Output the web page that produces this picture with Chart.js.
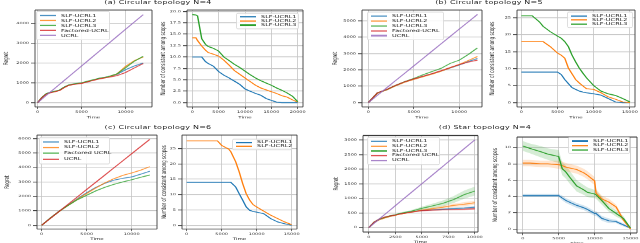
<!DOCTYPE html>
<html>
<head>
<meta charset="utf-8">
<title>SLF-UCRL results</title>
<script src="https://cdn.jsdelivr.net/npm/chart.js@4.4.1/dist/chart.umd.min.js"></script>
<style>
  html, body { margin: 0; padding: 0; background: #fff; overflow: hidden; }
  #fig { position: absolute; left: 0; top: 0; width: 640px; transform-origin: 0 0; font-family: "DejaVu Sans", sans-serif; color: #222; }
  #fig canvas { position: absolute; }
  .title { position: absolute; font-size: 8px; white-space: nowrap; transform: translateX(-50%); letter-spacing: 0.2px; }
  .legend { position: absolute; box-sizing: border-box; background: rgba(255,255,255,0.85); border: 1px solid #d6d6d6; border-radius: 2px; padding: 2px 3px; font-size: 6.5px; }
  .legend .row { display: flex; align-items: center; white-space: nowrap; }
  .legend .ln { display: inline-block; width: 16px; height: 2.2px; margin-right: 5px; flex: none; }
</style>
</head>
<body>
<div id="fig"></div>
<script>
// Panel (a): circular topology, N=4
const aTime = [0, 500, 1000, 1500, 2000, 2500, 3000, 3500, 4000, 5000, 6000, 7000, 8000, 9000, 10000, 11000, 12000];
const aRegretSlf1 = [0, 270, 450, 520, 570, 630, 770, 880, 930, 990, 1100, 1220, 1300, 1420, 1660, 1850, 2000];
const aRegretSlf2 = [0, 260, 440, 510, 560, 620, 760, 870, 920, 980, 1100, 1210, 1290, 1440, 1830, 2120, 2300];
const aRegretSlf3 = [0, 270, 460, 530, 580, 640, 780, 890, 940, 1000, 1120, 1230, 1310, 1450, 1760, 2090, 2340];
const aRegretFactored = [0, 250, 430, 500, 550, 610, 750, 860, 910, 970, 1080, 1190, 1270, 1360, 1520, 1750, 1970];
const aRegretUcrl = [0, 185, 370, 555, 740, 925, 1110, 1295, 1480, 1850, 2220, 2590, 2960, 3330, 3700, 4070, 4440];

const aStep = [0, 700, 1000, 1800, 2500, 3000, 4000, 5000, 6000, 7000, 8000, 9000, 10000, 11000, 12000, 13000, 14000, 15000, 16000, 17000, 18000, 19000, 20000];
const aScopesSlf1 = [10, 10, 10, 10, 9.0, 8.6, 8.0, 6.8, 6.0, 5.4, 4.7, 4.0, 3.0, 2.5, 2.0, 1.6, 0.9, 0.5, 0.1, 0, 0, 0, 0];
const aScopesSlf2 = [14.2, 14.2, 13.6, 12.4, 11.5, 11.0, 10.6, 10.2, 9.3, 8.2, 7.0, 6.2, 5.4, 4.6, 3.8, 3.2, 2.8, 2.4, 2.0, 1.5, 1.2, 0.6, 0.1];
const aScopesSlf3 = [19.3, 19.2, 19.0, 14.0, 12.8, 12.3, 11.9, 11.3, 10.0, 9.2, 8.4, 7.7, 6.9, 6.1, 5.4, 4.8, 4.3, 3.8, 3.2, 2.7, 2.1, 1.4, 0.2];

// Panel (b): circular topology, N=5
const bTime = [0, 1000, 2000, 3000, 4000, 5000, 6000, 7000, 8000, 9000, 10000, 11000, 12000];
const bRegretSlf1 = [0, 590, 780, 1040, 1260, 1440, 1600, 1760, 1930, 2120, 2300, 2520, 2700];
const bRegretSlf2 = [0, 570, 770, 1030, 1250, 1420, 1580, 1740, 1920, 2130, 2340, 2580, 2820];
const bRegretSlf3 = [0, 600, 790, 1060, 1290, 1480, 1700, 1900, 2100, 2400, 2600, 2950, 3350];
const bRegretFactored = [0, 610, 800, 1060, 1280, 1460, 1620, 1780, 1960, 2150, 2330, 2480, 2600];
const bRegretUcrl = [0, 450, 900, 1350, 1800, 2250, 2700, 3150, 3600, 4050, 4500, 4950, 5400];

const bStep = [0, 1500, 2500, 3000, 4000, 5000, 5500, 6000, 6500, 7000, 7500, 8000, 8500, 9000, 10000, 11000, 12000, 13000, 14000, 15000];
const bScopesSlf1 = [9, 9, 9, 9, 9, 9, 8.3, 6.8, 5.6, 4.4, 3.9, 3.4, 3.1, 2.9, 2.6, 2.2, 1.2, 0.2, 0, 0];
const bScopesSlf2 = [18, 18, 18, 18, 16.5, 14.6, 14.0, 13.1, 10.2, 8.5, 6.8, 5.8, 4.9, 4.1, 3.9, 2.9, 1.7, 1.0, 0.2, 0];
const bScopesSlf3 = [25.6, 25.6, 23.8, 22.5, 20.9, 19.6, 19.0, 18.0, 16.5, 14.0, 12.0, 10.2, 8.7, 7.3, 5.0, 3.4, 2.6, 2.1, 1.2, 0.2];

// Panel (c): circular topology, N=6
const cTime = [0, 1000, 2000, 3000, 4000, 5000, 6000, 7000, 8000, 9000, 10000, 11000, 12000];
const cRegretSlf1 = [0, 520, 1000, 1430, 1850, 2260, 2620, 2900, 3120, 3250, 3350, 3540, 3740];
const cRegretSlf2 = [0, 510, 990, 1410, 1820, 2200, 2580, 2930, 3220, 3450, 3620, 3820, 4060];
const cRegretFactored = [0, 520, 990, 1400, 1780, 2080, 2380, 2630, 2830, 3000, 3150, 3320, 3480];
const cRegretUcrl = [0, 495, 990, 1490, 1985, 2480, 2975, 3470, 3970, 4465, 4960, 5455, 5950];

const cStep = [0, 4400, 5000, 6000, 6300, 7000, 7500, 8000, 8500, 9000, 9500, 10000, 11000, 12000, 13000, 14000, 15000];
const cScopesSlf1 = [14, 14, 14, 14, 14, 12.5, 10.3, 8.2, 6.0, 4.9, 4.5, 4.3, 3.8, 2.2, 1.1, 0.5, 0];
const cScopesSlf2 = [27.5, 27.5, 26.0, 24.8, 24.0, 20.7, 17.4, 13.6, 10.3, 8.2, 6.7, 6.0, 4.6, 3.3, 2.2, 1.1, 0.2];

// Panel (d): star topology, N=4 (mean and spread)
const dTime = [0, 500, 1000, 1500, 2000, 2500, 3000, 4000, 5000, 6000, 7000, 8000, 9000, 10000];
const dRegretSlf1 = [0, 180, 280, 340, 390, 430, 480, 540, 590, 610, 630, 650, 670, 700];
const dRegretSlf2 = [0, 170, 270, 330, 380, 420, 470, 530, 600, 650, 700, 760, 800, 850];
const dRegretSlf3 = [0, 190, 290, 350, 400, 440, 490, 560, 660, 740, 830, 960, 1130, 1250];
const dRegretFactored = [0, 190, 300, 360, 400, 430, 470, 530, 580, 600, 610, 620, 630, 645];
const dRegretUcrl = [0, 150, 300, 450, 600, 750, 900, 1200, 1500, 1800, 2100, 2400, 2700, 3000];
const dRegretSlf1Sd = [0, 10, 15, 15, 15, 15, 15, 20, 25, 30, 35, 40, 40, 40];
const dRegretSlf2Sd = [0, 10, 15, 15, 15, 15, 20, 25, 30, 40, 50, 60, 70, 70];
const dRegretSlf3Sd = [0, 20, 30, 30, 30, 30, 30, 40, 60, 80, 100, 120, 140, 150];
const dRegretFactoredSd = [0, 10, 15, 15, 15, 15, 15, 20, 25, 30, 30, 35, 40, 45];

const dStep = [0, 1000, 2500, 3500, 5000, 5500, 6000, 6500, 7500, 8500, 9000, 10000, 10200, 11000, 12000, 13000, 13500, 14000, 15000];
const dScopesSlf1 = [4.1, 4.1, 4.1, 4.1, 4.1, 3.8, 3.5, 3.3, 2.9, 2.6, 2.4, 1.9, 1.9, 1.3, 1.0, 0.9, 0.7, 0.5, 0.1];
const dScopesSlf2 = [8.1, 8.1, 8.0, 8.0, 7.9, 7.8, 7.6, 7.5, 7.3, 6.9, 6.6, 5.9, 4.4, 3.7, 3.3, 2.7, 1.9, 1.1, 0];
const dScopesSlf3 = [10.2, 9.9, 9.5, 9.2, 8.9, 7.4, 7.0, 6.4, 5.3, 4.8, 4.5, 4.3, 4.2, 3.5, 2.5, 1.9, 1.6, 1.3, 0.1];
const dScopesSlf1Sd = [0.2, 0.2, 0.2, 0.2, 0.2, 0.3, 0.3, 0.3, 0.3, 0.3, 0.3, 0.3, 0.3, 0.3, 0.3, 0.2, 0.2, 0.2, 0.1];
const dScopesSlf2Sd = [0.4, 0.4, 0.4, 0.4, 0.5, 0.5, 0.5, 0.5, 0.5, 0.5, 0.5, 0.5, 0.5, 0.4, 0.4, 0.3, 0.3, 0.2, 0.1];
const dScopesSlf3Sd = [0.6, 0.6, 0.7, 0.7, 0.8, 0.8, 0.8, 0.8, 0.7, 0.6, 0.6, 0.5, 0.5, 0.5, 0.4, 0.4, 0.3, 0.3, 0.1];

// Tick values
const regretXTicks = [0, 5000, 10000];
const starRegretXTicks = [0, 2500, 5000, 7500, 10000];
const scopesXTicks = [0, 5000, 10000, 15000];
const scopesXTicksLong = [0, 5000, 10000, 15000, 20000];
const aRegretYTicks = [0, 1000, 2000, 3000, 4000];
const bRegretYTicks = [0, 1000, 2000, 3000, 4000, 5000];
const cRegretYTicks = [0, 1000, 2000, 3000, 4000, 5000, 6000];
const dRegretYTicks = [0, 500, 1000, 1500, 2000, 2500, 3000];
const aScopesYTicks = [0, 2.5, 5, 7.5, 10, 12.5, 15, 17.5, 20];
const bScopesYTicks = [0, 5, 10, 15, 20, 25];
const dScopesYTicks = [0, 2, 4, 6, 8, 10];

// Text
const titles = ['(a) Circular topology N=4', '(b) Circular topology N=5', '(c) Circular topology N=6', '(d) Star topology N=4'];
const regretLabelsA = ['SLF-UCRL1', 'SLF-UCRL2', 'SLF-UCRL3', 'Factored-UCRL', 'UCRL'];
const regretLabelsC = ['SLF-UCRL1', 'SLF-UCRL2', 'Factored UCRL', 'UCRL'];
const regretLabelsD = ['SLF-UCRL1', 'SLF-UCRL2', 'SLF-UCRL3', 'Factored UCRL', 'UCRL'];
const scopeLabels = ['SLF-UCRL1', 'SLF-UCRL2', 'SLF-UCRL3'];
const scopesTitle = 'Number of consistent among scopes';

// The printed figure is squashed vertically, so everything is drawn taller and scaled down
const K = 0.62;
const XH = 20;
const FONT = '"DejaVu Sans", sans-serif';
const GRID = '#c4c4c4';
const BLUE = '#1f77b4', ORANGE = '#ff7f0e', GREEN = '#2ca02c', RED = '#d62728', PURPLE = '#9467bd';

const fig = document.getElementById('fig');
fig.style.height = (243 / K) + 'px';
fig.style.transform = 'scaleY(' + K + ')';

Chart.defaults.font.family = FONT;

function rgba(hex, a) {
    const n = parseInt(hex.slice(1), 16);
    return 'rgba(' + (n >> 16) + ',' + ((n >> 8) & 255) + ',' + (n & 255) + ',' + a + ')';
}

function points(xs, ys) {
    return xs.map((x, i) => ({ x: x, y: ys[i] }));
}

function lineSet(xs, ys, color, order) {
    return { data: points(xs, ys), borderColor: color, borderWidth: 1.4, pointRadius: 0, fill: false, tension: 0, order: order };
}

function bandSets(xs, ys, sd, color) {
    return [
        { data: xs.map((x, i) => ({ x: x, y: ys[i] + sd[i] })), borderWidth: 0, borderColor: 'transparent', pointRadius: 0, backgroundColor: rgba(color, 0.2), fill: '+1', order: 20 },
        { data: xs.map((x, i) => ({ x: x, y: ys[i] - sd[i] })), borderWidth: 0, borderColor: 'transparent', pointRadius: 0, fill: false, order: 20 }
    ];
}

// Draw all four spines
const framePlugin = {
    id: 'frame',
    afterDraw(chart) {
        const a = chart.chartArea, c = chart.ctx;
        c.save();
        c.strokeStyle = '#3a3a3a';
        c.lineWidth = 0.9;
        c.beginPath();
        c.moveTo(a.left, a.top); c.lineTo(a.left, a.bottom);
        c.moveTo(a.right, a.top); c.lineTo(a.right, a.bottom);
        c.stroke();
        c.lineWidth = 0.9 / K;
        c.beginPath();
        c.moveTo(a.left, a.top); c.lineTo(a.right, a.top);
        c.moveTo(a.left, a.bottom); c.lineTo(a.right, a.bottom);
        c.stroke();
        c.restore();
    }
};

function makePanel(p) {
    const L = p.box[0], R = p.box[1], T = p.box[2] / K, B = p.box[3] / K;
    const left = Math.floor(L - p.yw), top = Math.floor(T - 8);
    const cv = document.createElement('canvas');
    cv.width = Math.ceil(R + 12) - left;
    cv.height = Math.ceil(B + XH + 2) - top;
    cv.style.left = left + 'px';
    cv.style.top = top + 'px';
    fig.appendChild(cv);
    const tickFont = { family: FONT, size: 5 };
    new Chart(cv, {
        type: 'line',
        data: { datasets: p.datasets },
        options: {
            responsive: false,
            animation: false,
            devicePixelRatio: 1,
            layout: { padding: { left: 0, top: T - top, right: cv.width - (R - left), bottom: cv.height - (B - top) - XH } },
            plugins: { legend: { display: false }, tooltip: { enabled: false } },
            scales: {
                x: {
                    type: 'linear', min: p.x[0], max: p.x[1],
                    afterFit: s => { s.height = XH; },
                    afterBuildTicks: s => { s.ticks = p.xTicks.map(v => ({ value: v })); },
                    ticks: { font: tickFont, color: '#333', padding: 2, maxRotation: 0, autoSkip: false, callback: v => String(v) },
                    grid: { color: GRID, lineWidth: 0.8, tickLength: 3.5, tickColor: '#444', tickWidth: 0.8 },
                    border: { display: false },
                    title: { display: true, text: 'Time', font: { family: FONT, size: 5.5 }, color: '#222', padding: 0 }
                },
                y: {
                    min: p.y[0], max: p.y[1],
                    afterFit: s => { s.width = L - left; },
                    afterBuildTicks: s => { s.ticks = p.yTicks.map(v => ({ value: v })); },
                    ticks: { font: tickFont, color: '#333', padding: 2, autoSkip: false, callback: p.yFmt || (v => String(v)) },
                    grid: { color: GRID, lineWidth: 0.8 / K, tickLength: 4, tickColor: '#444', tickWidth: 0.8 / K },
                    border: { display: false },
                    title: { display: true, text: p.yTitle, font: { family: FONT, size: 6.5 }, color: '#222', padding: 0 }
                }
            }
        },
        plugins: [framePlugin]
    });
}

function addLegend(box, labels, colors) {
    const el = document.createElement('div');
    el.className = 'legend';
    el.style.left = box[0] + 'px';
    el.style.top = (box[1] / K) + 'px';
    el.style.width = box[2] + 'px';
    el.style.height = (box[3] / K) + 'px';
    const rowH = (box[3] / K - 6) / labels.length;
    labels.forEach((lab, i) => {
        const row = document.createElement('div');
        row.className = 'row';
        row.style.height = rowH + 'px';
        row.style.lineHeight = rowH + 'px';
        const ln = document.createElement('span');
        ln.className = 'ln';
        ln.style.background = colors[i];
        row.appendChild(ln);
        row.appendChild(document.createTextNode(lab));
        el.appendChild(row);
    });
    fig.appendChild(el);
}

function addTitle(text, cx, y) {
    const el = document.createElement('div');
    el.className = 'title';
    el.textContent = text;
    el.style.left = cx + 'px';
    el.style.top = (y / K) + 'px';
    fig.appendChild(el);
}

const A = 0.8; // regret curves are a little faded
const five = [rgba(BLUE, A), rgba(ORANGE, A), rgba(GREEN, A), rgba(RED, A), rgba(PURPLE, A)];
const fourC = [rgba(BLUE, A), rgba(ORANGE, A), rgba(GREEN, A), rgba(RED, A)];
const three = [BLUE, ORANGE, GREEN];

// (a)
makePanel({
    box: [35, 152, 10, 107], x: [-300, 13000], y: [-222, 4672], yw: 33,
    xTicks: regretXTicks, yTicks: aRegretYTicks, yTitle: 'Regret',
    datasets: [
        lineSet(aTime, aRegretSlf1, five[0], 9), lineSet(aTime, aRegretSlf2, five[1], 8),
        lineSet(aTime, aRegretSlf3, five[2], 7), lineSet(aTime, aRegretFactored, five[3], 6),
        lineSet(aTime, aRegretUcrl, five[4], 5)
    ]
});
makePanel({
    box: [187, 303, 10, 107], x: [-1000, 21000], y: [-0.97, 20.3], yw: 28,
    xTicks: scopesXTicksLong, yTicks: aScopesYTicks, yTitle: scopesTitle, yFmt: v => v.toFixed(1),
    datasets: [
        lineSet(aStep, aScopesSlf1, BLUE, 9), lineSet(aStep, aScopesSlf2, ORANGE, 8), lineSet(aStep, aScopesSlf3, GREEN, 7)
    ]
});

// (b)
makePanel({
    box: [362, 482, 10, 107], x: [-700, 12500], y: [-270, 5670], yw: 31,
    xTicks: regretXTicks, yTicks: bRegretYTicks, yTitle: 'Regret',
    datasets: [
        lineSet(bTime, bRegretSlf1, five[0], 9), lineSet(bTime, bRegretSlf2, five[1], 8),
        lineSet(bTime, bRegretSlf3, five[2], 7), lineSet(bTime, bRegretFactored, five[3], 6),
        lineSet(bTime, bRegretUcrl, five[4], 5)
    ]
});
makePanel({
    box: [517, 635, 10, 107], x: [-600, 15700], y: [-1.3, 27.3], yw: 29,
    xTicks: scopesXTicks, yTicks: bScopesYTicks, yTitle: scopesTitle,
    datasets: [
        lineSet(bStep, bScopesSlf1, BLUE, 9), lineSet(bStep, bScopesSlf2, ORANGE, 8), lineSet(bStep, bScopesSlf3, GREEN, 7)
    ]
});

// (c)
makePanel({
    box: [37, 157, 135, 229], x: [-520, 12800], y: [-260, 6250], yw: 34,
    xTicks: regretXTicks, yTicks: cRegretYTicks, yTitle: 'Regret',
    datasets: [
        lineSet(cTime, cRegretSlf1, fourC[0], 9), lineSet(cTime, cRegretSlf2, fourC[1], 8),
        lineSet(cTime, cRegretFactored, fourC[2], 7), lineSet(cTime, cRegretUcrl, fourC[3], 6)
    ]
});
makePanel({
    box: [182, 297, 135, 229], x: [-670, 15760], y: [-1.2, 29.4], yw: 22,
    xTicks: scopesXTicks, yTicks: bScopesYTicks, yTitle: scopesTitle,
    datasets: [
        lineSet(cStep, cScopesSlf1, BLUE, 9), lineSet(cStep, cScopesSlf2, ORANGE, 8)
    ]
});

// (d)
makePanel({
    box: [363, 478, 135.5, 232], x: [-550, 10300], y: [-150, 3150], yw: 31,
    xTicks: starRegretXTicks, yTicks: dRegretYTicks, yTitle: 'Regret',
    datasets: [].concat(
        bandSets(dTime, dRegretSlf1, dRegretSlf1Sd, BLUE),
        bandSets(dTime, dRegretSlf2, dRegretSlf2Sd, ORANGE),
        bandSets(dTime, dRegretSlf3, dRegretSlf3Sd, GREEN),
        bandSets(dTime, dRegretFactored, dRegretFactoredSd, RED),
        [lineSet(dTime, dRegretSlf1, five[0], 9), lineSet(dTime, dRegretSlf2, five[1], 8),
         lineSet(dTime, dRegretSlf3, five[2], 7), lineSet(dTime, dRegretFactored, five[3], 6),
         lineSet(dTime, dRegretUcrl, five[4], 5)]
    )
});
makePanel({
    box: [517, 637, 137, 233], x: [-800, 15900], y: [-0.5, 11.3], yw: 26,
    xTicks: scopesXTicks, yTicks: dScopesYTicks, yTitle: scopesTitle,
    datasets: [].concat(
        bandSets(dStep, dScopesSlf1, dScopesSlf1Sd, BLUE),
        bandSets(dStep, dScopesSlf2, dScopesSlf2Sd, ORANGE),
        bandSets(dStep, dScopesSlf3, dScopesSlf3Sd, GREEN),
        [lineSet(dStep, dScopesSlf1, BLUE, 9), lineSet(dStep, dScopesSlf2, ORANGE, 8), lineSet(dStep, dScopesSlf3, GREEN, 7)]
    )
});

// Legends and titles
addLegend([36, 11, 74, 29], regretLabelsA, five);
addLegend([236, 13, 63, 16], scopeLabels, three);
addLegend([367, 12, 77, 28], regretLabelsA, five);
addLegend([567, 12, 66, 16], scopeLabels, three);
addLegend([39, 137, 71, 27], regretLabelsC, fourC);
addLegend([232, 139, 60, 11], scopeLabels.slice(0, 2), three);
addLegend([367, 137, 73, 28], regretLabelsD, five);
addLegend([568, 137, 62, 17], scopeLabels, three);

addTitle(titles[0], 158, 0);
addTitle(titles[1], 489, 0);
addTitle(titles[2], 158, 124.5);
addTitle(titles[3], 485, 124.5);
</script>
</body>
</html>
